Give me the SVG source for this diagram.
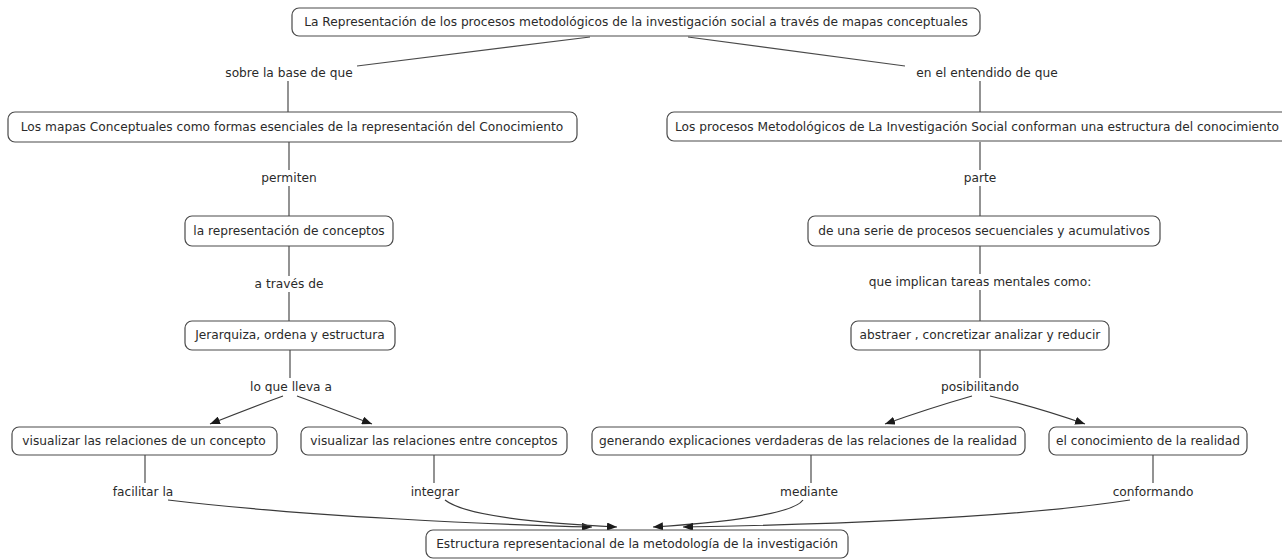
<svg xmlns="http://www.w3.org/2000/svg" width="1282" height="559" viewBox="0 0 1282 559">
  <style>
    .box { fill: #ffffff; stroke: #4a4a4a; stroke-width: 1.2; }
    .t { font-family: "DejaVu Sans", Verdana, sans-serif; font-size: 12.2px; fill: #2a2a2a; text-anchor: middle; }
    .ts { font-family: "DejaVu Sans", Verdana, sans-serif; font-size: 12.2px; fill: #2a2a2a; text-anchor: start; }
    .ln { fill: none; stroke: #4a4a4a; stroke-width: 1.2; }
    .ar { fill: none; stroke: #3a3a3a; stroke-width: 1.2; marker-end: url(#head); }
  </style>
  <defs>
    <marker id="head" viewBox="0 0 10 8" refX="10" refY="4" markerWidth="10" markerHeight="8" markerUnits="userSpaceOnUse" orient="auto">
      <path d="M0,0 L10,4 L0,8 Z" fill="#1a1a1a"/>
    </marker>
  </defs>
  <rect width="1282" height="559" fill="#ffffff"/>

  <!-- connectors -->
  <g id="connectors">
    <line class="ln" x1="590" y1="37" x2="357" y2="66"/>
    <line class="ln" x1="688" y1="37" x2="905" y2="66"/>
    <line class="ln" x1="288" y1="81" x2="288" y2="112"/>
    <line class="ln" x1="980" y1="81" x2="980" y2="112"/>

    <line class="ln" x1="289" y1="142" x2="289" y2="170"/>
    <line class="ln" x1="289" y1="186" x2="289" y2="216"/>
    <line class="ln" x1="289" y1="246" x2="289" y2="276"/>
    <line class="ln" x1="289" y1="292" x2="289" y2="321"/>
    <line class="ln" x1="290" y1="350" x2="290" y2="378"/>
    <path class="ar" d="M283,396 Q250,408 210,424"/>
    <path class="ar" d="M297,396 Q330,408 372,424"/>

    <line class="ln" x1="980" y1="142" x2="980" y2="170"/>
    <line class="ln" x1="980" y1="186" x2="980" y2="216"/>
    <line class="ln" x1="980" y1="246" x2="980" y2="274"/>
    <line class="ln" x1="980" y1="290" x2="980" y2="321"/>
    <line class="ln" x1="980" y1="350" x2="980" y2="378"/>
    <path class="ar" d="M972,396 Q930,408 885,424"/>
    <path class="ar" d="M990,396 Q1040,408 1085,424"/>

    <line class="ln" x1="145" y1="455" x2="145" y2="483"/>
    <line class="ln" x1="434" y1="455" x2="434" y2="483"/>
    <line class="ln" x1="811" y1="455" x2="811" y2="483"/>
    <line class="ln" x1="1153" y1="455" x2="1153" y2="483"/>

    <path class="ar" d="M168,500 C300,516 500,525 592,527"/>
    <path class="ar" d="M445,500 Q470,520 617,527"/>
    <path class="ar" d="M803,500 Q790,518 653,527"/>
    <path class="ar" d="M1130,500 C1000,520 800,525 683,527"/>
  </g>

  <!-- linking phrases -->
  <g id="labels">
    <text class="t" x="289" y="77">sobre la base de que</text>
    <text class="t" x="987" y="77">en el entendido de que</text>
    <text class="t" x="289" y="182">permiten</text>
    <text class="t" x="289" y="288">a través de</text>
    <text class="t" x="291" y="391">lo que lleva a</text>
    <text class="t" x="980" y="182">parte</text>
    <text class="t" x="980" y="286">que implican tareas mentales como:</text>
    <text class="t" x="980" y="391">posibilitando</text>
    <text class="t" x="143" y="496">facilitar la</text>
    <text class="t" x="435" y="496">integrar</text>
    <text class="t" x="809" y="496">mediante</text>
    <text class="t" x="1153" y="496">conformando</text>
  </g>

  <!-- concepts -->
  <g id="n-root">
    <rect class="box" x="292" y="8" width="688" height="28" rx="7"/>
    <text class="t" x="636" y="26">La Representación de los procesos metodológicos de la investigación social a través de mapas conceptuales</text>
  </g>
  <g id="n-mapas">
    <rect class="box" x="8" y="112" width="569" height="30" rx="7"/>
    <text class="t" x="292" y="131">Los mapas Conceptuales como formas esenciales de la representación del Conocimiento</text>
  </g>
  <g id="n-procesos">
    <rect class="box" x="667" y="112" width="640" height="29" rx="7"/>
    <text class="ts" x="675" y="131">Los procesos Metodológicos de La Investigación Social conforman una estructura del conocimiento</text>
  </g>
  <g id="n-representacion">
    <rect class="box" x="185" y="216" width="208" height="30" rx="7"/>
    <text class="t" x="289" y="235">la representación de conceptos</text>
  </g>
  <g id="n-jerarquiza">
    <rect class="box" x="185" y="321" width="210" height="29" rx="7"/>
    <text class="t" x="290" y="339">Jerarquiza, ordena y estructura</text>
  </g>
  <g id="n-serie">
    <rect class="box" x="808" y="216" width="352" height="30" rx="7"/>
    <text class="t" x="984" y="235">de una serie de procesos secuenciales y acumulativos</text>
  </g>
  <g id="n-abstraer">
    <rect class="box" x="851" y="321" width="258" height="29" rx="7"/>
    <text class="t" x="980" y="339">abstraer , concretizar analizar y reducir</text>
  </g>
  <g id="n-vis-uno">
    <rect class="box" x="12" y="427" width="265" height="28" rx="7"/>
    <text class="t" x="144" y="445">visualizar las relaciones de un concepto</text>
  </g>
  <g id="n-vis-entre">
    <rect class="box" x="301" y="427" width="266" height="28" rx="7"/>
    <text class="t" x="434" y="445">visualizar las relaciones entre conceptos</text>
  </g>
  <g id="n-generando">
    <rect class="box" x="592" y="427" width="433" height="28" rx="7"/>
    <text class="t" x="808" y="445">generando explicaciones verdaderas de las relaciones de la realidad</text>
  </g>
  <g id="n-conocimiento">
    <rect class="box" x="1049" y="427" width="198" height="28" rx="7"/>
    <text class="t" x="1148" y="445">el conocimiento de la realidad</text>
  </g>
  <g id="n-estructura">
    <rect class="box" x="426" y="530" width="422" height="28" rx="7"/>
    <text class="t" x="637" y="548">Estructura representacional de la metodología de la investigación</text>
  </g>
</svg>
